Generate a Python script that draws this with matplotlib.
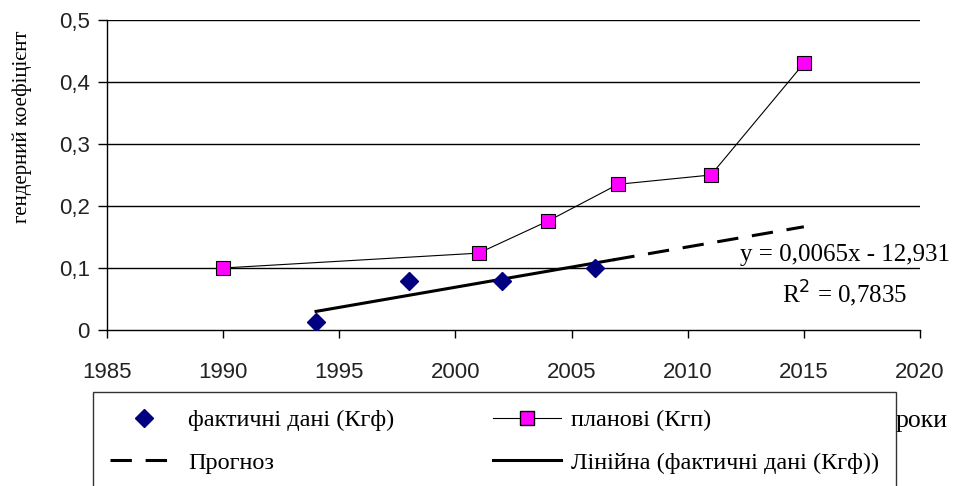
import matplotlib
matplotlib.use("Agg")
import matplotlib.pyplot as plt
from matplotlib.lines import Line2D
import numpy as np

# ---- data ----
years_plan = [1990, 2001, 2004, 2007, 2011, 2015]
plan_vals = [0.100, 0.124, 0.176, 0.235, 0.250, 0.430]
years_fact = [1994, 1998, 2002, 2006]
fact_vals = [0.013, 0.079, 0.079, 0.100]
slope, intercept = 0.0065, -12.931
trend_range = [1994, 2006.8]
forecast_range = [2006.8, 2015]
x_ticks = [1985, 1990, 1995, 2000, 2005, 2010, 2015, 2020]
y_ticks = [0, 0.1, 0.2, 0.3, 0.4, 0.5]
y_ticklabels = ["0", "0,1", "0,2", "0,3", "0,4", "0,5"]
labels = ["фактичні дані (Кгф)", "Прогноз", "планові (Кгп)", "Лінійна (фактичні дані (Кгф))"]

serif = "Liberation Serif"
sans = "Liberation Sans"

fig = plt.figure(figsize=(9.56, 4.86), dpi=100)
ax = fig.add_axes([107/956, 1-330/486, (920-107)/956, (330-20)/486])

# grid lines
for yv in y_ticks[1:]:
    ax.axhline(yv, color="black", lw=1.0, zorder=1)

tx = np.array(trend_range)
fx = np.array(forecast_range)
ax.plot(fx, slope*fx + intercept, color="black", lw=2.2, dashes=(7, 4.5), zorder=3)
ax.plot(tx, slope*tx + intercept, color="black", lw=2.2, zorder=3)
ax.plot(years_plan, plan_vals, color="black", lw=0.8, marker="s", markersize=10,
        markerfacecolor="#FF00FF", markeredgecolor="black", markeredgewidth=0.8, zorder=4)
ax.plot(years_fact, fact_vals, linestyle="none", marker="D", markersize=9,
        markerfacecolor="#000080", markeredgecolor="#000080", zorder=5)

ax.set_xlim(1985, 2020)
ax.set_ylim(0, 0.5)
ax.set_xticks(x_ticks)
ax.set_xticklabels([str(v) for v in x_ticks], fontfamily=sans, fontsize=16, color="#222222")
ax.set_yticks(y_ticks)
ax.set_yticklabels(y_ticklabels, fontfamily=sans, fontsize=16, color="#222222")
ax.tick_params(axis="x", direction="out", length=6, width=1, pad=17)
ax.tick_params(axis="y", direction="out", length=6.5, width=1, pad=6)
for s in ["top", "right"]:
    ax.spines[s].set_visible(False)
for s in ["left", "bottom"]:
    ax.spines[s].set_linewidth(1.0)
    ax.spines[s].set_color("black")

ax.set_ylabel("гендерний коефіцієнт", fontfamily=serif, fontsize=15)
ax.yaxis.set_label_coords(-0.092, 0.655)

# trendline equation
ax.text(2021.3, 0.121, "y = 0,0065x - 12,931", fontfamily=serif, fontsize=18,
        ha="right", va="center", clip_on=False)
ax.text(2019.45, 0.058, "R$^2$ = 0,7835", fontfamily=serif, fontsize=18,
        ha="right", va="center")

handles = [
    Line2D([], [], linestyle="none", marker="D", markersize=9,
           markerfacecolor="#000080", markeredgecolor="#000080"),
    Line2D([], [], color="black", lw=2.2, dashes=(7, 4.5)),
    Line2D([], [], color="black", lw=0.8, marker="s", markersize=10,
           markerfacecolor="#FF00FF", markeredgecolor="black"),
    Line2D([], [], color="black", lw=2.2),
]
leg = fig.legend(handles, labels, loc="upper left", ncol=2, mode="expand",
                 bbox_to_anchor=(93/956, -0.3, (896-93)/956, 1-392/486+0.3),
                 prop={"family": serif, "size": 17.5}, frameon=True, fancybox=False,
                 handlelength=2.8, handletextpad=0.4, labelspacing=0.85,
                 borderpad=0.7, borderaxespad=0)
leg.get_frame().set_edgecolor("black")
leg.get_frame().set_linewidth(1.0)

fig.text(896/956, 1-421/486, "роки", fontfamily=serif, fontsize=18.5, ha="left", va="center")

fig.savefig("out.png", dpi=100)
